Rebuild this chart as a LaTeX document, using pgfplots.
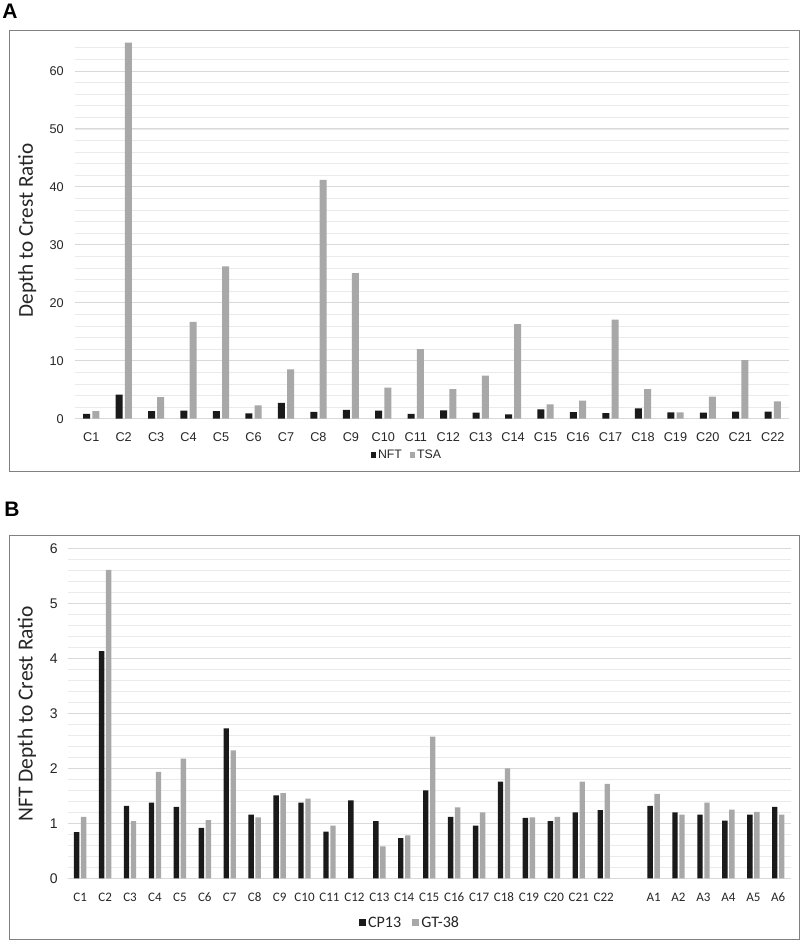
\documentclass[border=0pt]{standalone}
\usepackage{pgfplots}
\pgfplotsset{compat=1.18}
\usepackage{pgfplotstable}
\usepackage{fontspec}
\setmainfont{Liberation Sans}
\newfontfamily\calfont{Carlito}
\definecolor{barblack}{HTML}{1A1A1A}
\definecolor{bargray}{HTML}{A8A8A8}
\definecolor{framegray}{HTML}{808080}
\definecolor{majgrid}{HTML}{D9D9D9}
\definecolor{mingrid}{HTML}{EAEAEA}

\pgfplotstableread{
x nft tsa
1 0.84 1.32
2 4.15 64.9
3 1.32 3.74
4 1.38 16.7
5 1.30 26.3
6 0.92 2.3
7 2.73 8.5
8 1.16 41.2
9 1.51 25.1
10 1.38 5.35
11 0.85 12.0
12 1.42 5.12
13 1.04 7.42
14 0.73 16.3
15 1.60 2.47
16 1.12 3.1
17 0.96 17.1
18 1.76 5.12
19 1.10 1.09
20 1.04 3.8
21 1.20 10.1
22 1.24 3.0
}\dataA

\pgfplotstableread{
x cp gt
1 0.84 1.12
2 4.14 5.62
3 1.32 1.04
4 1.38 1.94
5 1.30 2.18
6 0.92 1.06
7 2.73 2.33
8 1.16 1.11
9 1.51 1.55
10 1.38 1.45
11 0.85 0.96
12 1.42 0
13 1.04 0.58
14 0.73 0.78
15 1.60 2.58
16 1.12 1.29
17 0.96 1.20
18 1.76 2.00
19 1.10 1.11
20 1.04 1.12
21 1.20 1.76
22 1.24 1.72
24 1.32 1.54
25 1.20 1.16
26 1.16 1.38
27 1.05 1.25
28 1.16 1.21
29 1.30 1.16
}\dataB

\begin{document}
\begin{tikzpicture}
\useasboundingbox (0pt,0pt) rectangle (800pt,941pt);
\fill[white] (0pt,0pt) rectangle (800pt,941pt);
% frames
\draw[framegray, line width=1pt] (9pt,469.5pt) rectangle (799pt,910.3pt);
\draw[framegray, line width=1pt] (9pt,1.5pt) rectangle (799pt,405.3pt);
% panel letters
\node[font=\bfseries\fontsize{21}{24}\selectfont] at (10pt,930pt) {A};
\node[font=\bfseries\fontsize{21}{24}\selectfont] at (12pt,432pt) {B};

\begin{axis}[
  at={(75pt,522.3pt)}, anchor=south west,
  scale only axis, width=714pt, height=376.7pt,
  xmin=0.5, xmax=22.5, ymin=0, ymax=65,
  ybar,
  axis line style={draw=none}, tick style={draw=none},
  xtick={1,...,22},
  xticklabels={C1,C2,C3,C4,C5,C6,C7,C8,C9,C10,C11,C12,C13,C14,C15,C16,C17,C18,C19,C20,C21,C22},
  ytick={0,10,...,60},
  minor ytick={2,4,...,64},
  ymajorgrids, yminorgrids,
  major grid style={majgrid, line width=0.9pt},
  minor grid style={mingrid, line width=0.8pt},
  /pgf/number format/assume math mode=true,
  xticklabel style={anchor=center, yshift=-14.6pt, font=\fontsize{12.7}{14}\selectfont, text=black!85},
  yticklabel style={anchor=east, xshift=-7.7pt, font=\fontsize{12.7}{14}\selectfont, text=black!85},
  ylabel={Depth to Crest Ratio},
  ylabel style={at={(axis description cs:-0.0668,0.5)}, anchor=center, font=\calfont\fontsize{21.2}{24}\selectfont, text=black!85},
  legend style={draw=none, fill=none, at={(axis description cs:0.465,-0.0964)}, anchor=center,
    legend columns=2, font=\fontsize{12.3}{14}\selectfont, text=black!85,
    /tikz/every even column/.append style={column sep=6pt}},
  legend image code/.code={\fill[#1] (0pt,-2.6pt) rectangle (5.2pt,2.6pt);},
]
\addplot[fill=barblack, draw=none, bar width=7pt, bar shift=-4.6pt] table[x=x,y=nft] {\dataA};
\addlegendentry{NFT}
\addplot[fill=bargray, draw=none, bar width=7pt, bar shift=4.6pt] table[x=x,y=tsa] {\dataA};
\addlegendentry{TSA}
\end{axis}

\begin{axis}[
  at={(67.7pt,62.7pt)}, anchor=south west,
  scale only axis, width=723pt, height=329.4pt,
  xmin=0.5, xmax=29.5, ymin=0, ymax=6,
  ybar,
  axis line style={draw=none}, tick style={draw=none},
  xtick={1,...,22,24,25,26,27,28,29},
  xticklabels={C1,C2,C3,C4,C5,C6,C7,C8,C9,C10,C11,C12,C13,C14,C15,C16,C17,C18,C19,C20,C21,C22,A1,A2,A3,A4,A5,A6},
  ytick={0,1,...,6},
  minor ytick={0.2,0.4,...,5.9},
  ymajorgrids, yminorgrids,
  major grid style={majgrid, line width=0.9pt},
  minor grid style={mingrid, line width=0.8pt},
  /pgf/number format/assume math mode=true,
  xticklabel style={anchor=center, yshift=-14.4pt, font=\calfont\fontsize{13}{15}\selectfont, text=black!85},
  yticklabel style={anchor=east, xshift=-6.4pt, font=\fontsize{14}{16}\selectfont, text=black!85},
  ylabel={NFT Depth to Crest Ratio},
  ylabel style={at={(axis description cs:-0.0563,0.5)}, anchor=center, font=\calfont\fontsize{21.5}{24}\selectfont, text=black!85},
  legend style={draw=none, fill=none, at={(axis description cs:0.4735,-0.135)}, anchor=center,
    legend columns=2, font=\calfont\fontsize{16}{18}\selectfont, text=black!85,
    /tikz/every even column/.append style={column sep=9pt}},
  legend image code/.code={\fill[#1] (0pt,-3.6pt) rectangle (7.2pt,3.6pt);},
]
\addplot[fill=barblack, draw=none, bar width=5.4pt, bar shift=-3.5pt] table[x=x,y=cp] {\dataB};
\addlegendentry{CP13}
\addplot[fill=bargray, draw=none, bar width=5.4pt, bar shift=3.5pt] table[x=x,y=gt] {\dataB};
\addlegendentry{GT-38}
\end{axis}
\end{tikzpicture}
\end{document}
